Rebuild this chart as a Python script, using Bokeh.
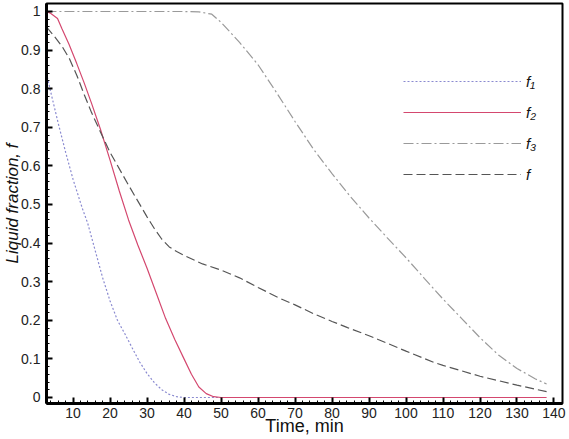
from bokeh.plotting import figure
from bokeh.models import (Range1d, FixedTicker, Legend, LegendItem)
from bokeh.embed import file_html
from bokeh.resources import INLINE

# ---- data ----
t_f1 = [2.8, 4, 6, 8, 10, 12.5, 14, 16, 18, 20, 22, 24, 26, 28, 30, 32, 34, 36, 38, 40, 60, 90, 120, 138]
f1 = [0.84, 0.79, 0.71, 0.635, 0.565, 0.49, 0.45, 0.38, 0.31, 0.25, 0.20, 0.165, 0.128, 0.092,
      0.062, 0.038, 0.02, 0.008, 0.002, 0.0, 0.0, 0.0, 0.0, 0.0]

t_f2 = [2.8, 4, 5.8, 7, 8.9, 11, 13, 15, 17.4, 20, 22.5, 25, 27.5, 30, 32.5, 35, 37.5, 40, 42,
        44, 46, 48, 50, 80, 110, 138]
f2 = [1.0, 0.995, 0.982, 0.955, 0.915, 0.865, 0.815, 0.762, 0.695, 0.615, 0.535, 0.46, 0.395,
      0.335, 0.27, 0.205, 0.15, 0.10, 0.06, 0.027, 0.01, 0.002, 0.0, 0.0, 0.0, 0.0]

t_f3 = [2.8, 20, 40, 44, 47.5, 50, 55, 60, 65, 70, 75, 80, 85, 90, 95, 100, 105, 110, 115, 120,
        125, 130, 135, 138]
f3 = [1.0, 1.0, 1.0, 0.999, 0.993, 0.972, 0.92, 0.862, 0.79, 0.715, 0.643, 0.58, 0.52, 0.465,
      0.413, 0.362, 0.308, 0.255, 0.205, 0.155, 0.11, 0.075, 0.048, 0.035]

t_f = [2.8, 5, 7, 9, 11, 13, 15, 17.4, 20, 25, 30, 32, 34, 36, 38, 40, 45, 50, 55, 60, 66.3, 70,
       75, 80, 84.2, 90, 92.3, 100, 107.5, 110, 120, 130, 138]
f = [0.96, 0.935, 0.91, 0.878, 0.835, 0.785, 0.738, 0.688, 0.635, 0.55, 0.468, 0.437, 0.41, 0.39,
     0.378, 0.368, 0.346, 0.33, 0.31, 0.285, 0.255, 0.24, 0.217, 0.197, 0.181, 0.16, 0.151, 0.12,
     0.091, 0.083, 0.055, 0.032, 0.015]

x_ticks = [10, 20, 30, 40, 50, 60, 70, 80, 90, 100, 110, 120, 130, 140]
x_minor = list(range(4, 142, 2))
y_ticks = [0, 0.1, 0.2, 0.3, 0.4, 0.5, 0.6, 0.7, 0.8, 0.9, 1]
y_minor = [round(i * 0.02, 2) for i in range(0, 51)]

labels = ["f\u2081", "f\u2082", "f\u2083", "f"]

FONT = "Liberation Sans"

p = figure(width=569, height=439, output_backend="svg", toolbar_location=None,
           x_range=Range1d(2.82, 142.3), y_range=Range1d(-0.0156, 1.0207),
           min_border_left=44, min_border_right=7, min_border_top=3, min_border_bottom=36)
p.grid.visible = False
p.background_fill_color = "white"
p.border_fill_color = "white"
p.outline_line_color = "black"
p.outline_line_width = 2

for ax in (p.xaxis[0], p.yaxis[0]):
    ax.axis_line_width = 3
    ax.axis_line_color = "black"
    ax.major_tick_in = 6
    ax.major_tick_out = 0
    ax.minor_tick_in = 3
    ax.minor_tick_out = 0
    ax.major_tick_line_width = 2
    ax.major_tick_line_color = "black"
    ax.minor_tick_line_color = "black"
    ax.major_label_text_font = FONT
    ax.major_label_text_font_size = "14px"
    ax.major_label_text_color = "#222222"
    ax.axis_label_text_font = FONT
    ax.axis_label_text_color = "#111111"

p.xaxis.ticker = FixedTicker(ticks=x_ticks, minor_ticks=x_minor)
p.yaxis.ticker = FixedTicker(ticks=y_ticks, minor_ticks=y_minor)
p.yaxis.major_label_overrides = {0: "0", 1: "1"}
p.xaxis.major_label_standoff = 4
p.yaxis.major_label_standoff = 6

p.xaxis.axis_label = "Time, min"
p.xaxis.axis_label_text_font_size = "18px"
p.xaxis.axis_label_text_font_style = "normal"
p.xaxis.axis_label_standoff = -5

p.yaxis.axis_label = "Liquid fraction, f"
p.yaxis.axis_label_text_font_size = "17px"
p.yaxis.axis_label_text_font_style = "italic"
p.yaxis.axis_label_standoff = -4

r1 = p.line(t_f1, f1, line_color="#8a8ad0", line_width=1.2, line_dash="2 2")
r2 = p.line(t_f2, f2, line_color="#d4486f", line_width=1.2)
r3 = p.line(t_f3, f3, line_color="#9a9a9a", line_width=1.2, line_dash="10 3 2 3")
r4 = p.line(t_f, f, line_color="#555555", line_width=1.2, line_dash="9 4")

legend = Legend(items=[LegendItem(label=lab, renderers=[r]) for lab, r in zip(labels, [r1, r2, r3, r4])],
                location=(357, 219), padding=0, margin=0, spacing=11,
                glyph_width=118, glyph_height=20, label_height=20, label_standoff=5,
                border_line_color=None, background_fill_alpha=0,
                label_text_font=FONT, label_text_font_style="italic",
                label_text_font_size="15px", label_text_color="#111111")
p.add_layout(legend)

open("out.html", "w").write(file_html(p, INLINE))
